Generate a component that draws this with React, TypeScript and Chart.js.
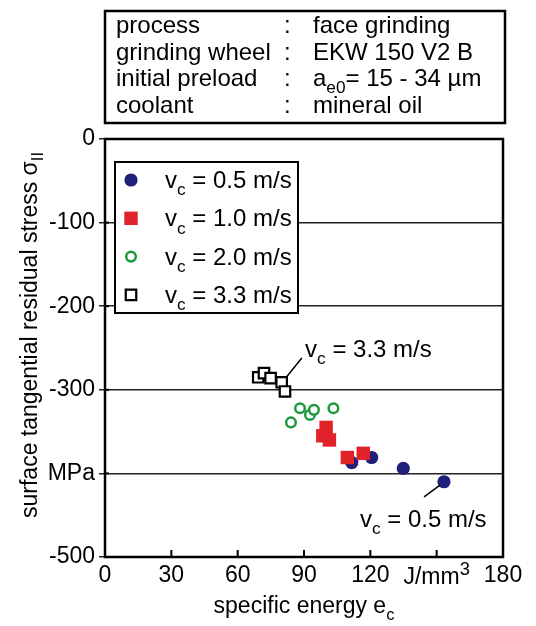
import { useEffect, useRef } from 'react';
import { Chart, registerables } from 'chart.js';

Chart.register(...registerables);

const FONT = '"Liberation Sans", Arial, sans-serif';

// ---- data ----
const speedLabels = ['v_{c} = 0.5 m/s', 'v_{c} = 1.0 m/s', 'v_{c} = 2.0 m/s', 'v_{c} = 3.3 m/s'];
const energy05 = [111.6, 120.6, 134.9, 153.3];
const stress05 = [-387, -381, -394, -410];
const energy10 = [100.0, 98.5, 101.5, 109.6, 116.8];
const stress10 = [-345, -355, -360, -381, -376];
const energy20 = [84.1, 88.2, 92.7, 94.5, 103.3];
const stress20 = [-339, -322, -330, -324, -322];
const energy33 = [69.3, 71.9, 74.9, 79.9, 81.4];
const stress33 = [-285, -280, -286, -291, -302];

const xTickValues = [0, 30, 60, 90, 120, 150, 180];
const xTickLabels = ['0', '30', '60', '90', '120', 'J/mm^{3}', '180'];
const yTickValues = [0, -100, -200, -300, -400, -500];
const yTickLabels = ['0', '-100', '-200', '-300', 'MPa', '-500'];

const xTitle = 'specific energy e_{c}';
const yTitle = 'surface tangential residual stress σ_{II}';

const infoKeys = ['process', 'grinding wheel', 'initial preload', 'coolant'];
const infoValues = ['face grinding', 'EKW 150 V2 B', 'a_{e0}= 15 - 34 µm', 'mineral oil'];

const calloutLabels = ['v_{c} = 3.3 m/s', 'v_{c} = 0.5 m/s'];
const calloutFrom = [[82, -285], [151.5, -414]];
const calloutTo = [[89, -262], [144.3, -428]];
const calloutText = [[90.5, -261], [115.3, -464]];

const colors = ['#20207a', '#e0222a', '#1e9a3c', '#000000'];

const TICK_FONT = 23;
const TICK_PAD = 5;

function isRich(s: string) {
  return /[_^]\{/.test(s);
}

function drawRich(ctx: CanvasRenderingContext2D, text: string, x: number, y: number, size: number, align: string = 'left') {
  const parts = text.split(/(_\{[^}]*\}|\^\{[^}]*\})/).filter((p) => p.length > 0);
  const segs = parts.map((p) => {
    if (p.startsWith('_{')) return { t: p.slice(2, -1), s: size * 0.72, dy: size * 0.3, w: 0 };
    if (p.startsWith('^{')) return { t: p.slice(2, -1), s: size * 0.8, dy: -size * 0.38, w: 0 };
    return { t: p, s: size, dy: 0, w: 0 };
  });
  let total = 0;
  for (const s of segs) {
    ctx.font = `${s.s}px ${FONT}`;
    s.w = ctx.measureText(s.t).width;
    total += s.w;
  }
  let cx = align === 'center' ? x - total / 2 : x;
  ctx.textAlign = 'left';
  ctx.textBaseline = 'alphabetic';
  for (const s of segs) {
    ctx.font = `${s.s}px ${FONT}`;
    ctx.fillText(s.t, cx, y + s.dy);
    cx += s.w;
  }
}

function drawMarker(ctx: CanvasRenderingContext2D, ds: any, x: number, y: number) {
  ctx.save();
  ctx.fillStyle = ds.backgroundColor;
  ctx.strokeStyle = ds.borderColor;
  ctx.lineWidth = ds.borderWidth;
  const r = ds.pointRadius;
  ctx.beginPath();
  if (ds.pointStyle === 'rect') {
    const h = Math.SQRT1_2 * r;
    ctx.rect(x - h, y - h, 2 * h, 2 * h);
  } else {
    ctx.arc(x, y, r, 0, Math.PI * 2);
  }
  ctx.fill();
  if (ds.borderWidth > 0) ctx.stroke();
  ctx.restore();
}

const decorPlugin = {
  id: 'decor',
  afterDraw(chart: any) {
    const ctx: CanvasRenderingContext2D = chart.ctx;
    const { left, right, top, bottom } = chart.chartArea;
    const xs = chart.scales.x;
    const ys = chart.scales.y;
    ctx.save();
    ctx.strokeStyle = '#000';
    ctx.fillStyle = '#000';

    // plot frame
    ctx.lineWidth = 2.5;
    ctx.strokeRect(left, top, right - left, bottom - top);

    // inner x ticks
    ctx.lineWidth = 2;
    for (const v of xTickValues) {
      const px = xs.getPixelForValue(v);
      ctx.beginPath();
      ctx.moveTo(px, bottom);
      ctx.lineTo(px, bottom - 7);
      ctx.stroke();
    }
    // inner y ticks
    for (const v of yTickValues) {
      const py = ys.getPixelForValue(v);
      ctx.beginPath();
      ctx.moveTo(left, py);
      ctx.lineTo(left + 4, py);
      ctx.stroke();
    }

    // rich x tick labels (unit label with superscript)
    xTickValues.forEach((v, i) => {
      const lab = xTickLabels[i];
      if (!isRich(lab)) return;
      drawRich(ctx, lab, xs.getPixelForValue(v), bottom + 27, TICK_FONT, 'center');
    });

    // info box
    ctx.lineWidth = 2.5;
    ctx.strokeRect(105, 11, 400, 112);
    infoKeys.forEach((k, i) => {
      const base = 33 + i * 26.5;
      drawRich(ctx, k, 116, base, 24);
      drawRich(ctx, ':', 284, base, 24);
      drawRich(ctx, infoValues[i], 313, base, 24);
    });

    // legend
    ctx.fillStyle = '#fff';
    ctx.fillRect(115, 162, 183, 151);
    ctx.lineWidth = 2;
    ctx.strokeRect(115, 162, 183, 151);
    ctx.fillStyle = '#000';
    chart.data.datasets.forEach((ds: any, i: number) => {
      const cy = 180 + i * 38.3;
      drawMarker(ctx, ds, 131, cy);
      ctx.fillStyle = '#000';
      drawRich(ctx, speedLabels[i], 165, cy + 8, 24);
    });

    // callouts
    ctx.lineWidth = 1.5;
    calloutLabels.forEach((lab, i) => {
      ctx.beginPath();
      ctx.moveTo(xs.getPixelForValue(calloutFrom[i][0]), ys.getPixelForValue(calloutFrom[i][1]));
      ctx.lineTo(xs.getPixelForValue(calloutTo[i][0]), ys.getPixelForValue(calloutTo[i][1]));
      ctx.stroke();
      drawRich(ctx, lab, xs.getPixelForValue(calloutText[i][0]), ys.getPixelForValue(calloutText[i][1]), 24);
    });

    // axis titles
    drawRich(ctx, xTitle, (left + right) / 2, 613, 23, 'center');
    ctx.save();
    ctx.translate(36.5, 335);
    ctx.rotate(-Math.PI / 2);
    drawRich(ctx, yTitle, 0, 0, 23, 'center');
    ctx.restore();

    ctx.restore();
  },
};

export default function App() {
  const ref = useRef<HTMLCanvasElement>(null);
  useEffect(() => {
    if (!ref.current) return;
    const mk = (xsArr: number[], ysArr: number[]) => xsArr.map((x, i) => ({ x, y: ysArr[i] }));
    const chart = new Chart(ref.current, {
      type: 'scatter',
      data: {
        datasets: [
          { label: '0.5', data: mk(energy05, stress05), pointStyle: 'circle', pointRadius: 6.6, backgroundColor: colors[0], borderColor: colors[0], borderWidth: 0, order: 2 },
          { label: '1.0', data: mk(energy10, stress10), pointStyle: 'rect', pointRadius: 9.5, backgroundColor: colors[1], borderColor: colors[1], borderWidth: 0, order: 1 },
          { label: '2.0', data: mk(energy20, stress20), pointStyle: 'circle', pointRadius: 4.8, backgroundColor: '#ffffff', borderColor: colors[2], borderWidth: 2.5, order: 3 },
          { label: '3.3', data: mk(energy33, stress33), pointStyle: 'rect', pointRadius: 7.4, backgroundColor: '#ffffff', borderColor: colors[3], borderWidth: 2.2, order: 4 },
        ] as any,
      },
      options: {
        animation: false,
        responsive: false,
        devicePixelRatio: 1,
        layout: { padding: { top: 139, right: 33, left: 0, bottom: 0 } },
        plugins: { legend: { display: false }, tooltip: { enabled: false } },
        scales: {
          x: {
            type: 'linear',
            min: 0,
            max: 180,
            afterFit: (s: any) => { s.height = 69; },
            afterBuildTicks: (s: any) => { s.ticks = xTickValues.map((v) => ({ value: v })); },
            ticks: {
              color: '#000',
              font: { family: FONT, size: TICK_FONT },
              padding: TICK_PAD,
              maxRotation: 0,
              autoSkip: false,
              callback: (v: any) => {
                const lab = xTickLabels[xTickValues.indexOf(Number(v))] ?? '';
                return isRich(lab) ? '' : lab;
              },
            },
            grid: { display: false, drawTicks: false },
            border: { display: false },
          },
          y: {
            type: 'linear',
            min: -500,
            max: 0,
            afterFit: (s: any) => { s.width = 105; },
            afterBuildTicks: (s: any) => { s.ticks = yTickValues.map((v) => ({ value: v })); },
            ticks: {
              color: '#000',
              font: { family: FONT, size: TICK_FONT },
              padding: 4,
              autoSkip: false,
              callback: (v: any) => yTickLabels[yTickValues.indexOf(Number(v))] ?? '',
            },
            grid: { color: '#222', lineWidth: 1.5, tickLength: 6, drawTicks: true },
            border: { display: false },
          },
        },
      },
      plugins: [decorPlugin],
    });
    return () => chart.destroy();
  }, []);
  return (
    <div style={{ position: 'absolute', left: 0, top: 0, width: 536, height: 626, background: '#fff' }}>
      <canvas ref={ref} width={536} height={626} style={{ width: 536, height: 626 }} />
    </div>
  );
}
